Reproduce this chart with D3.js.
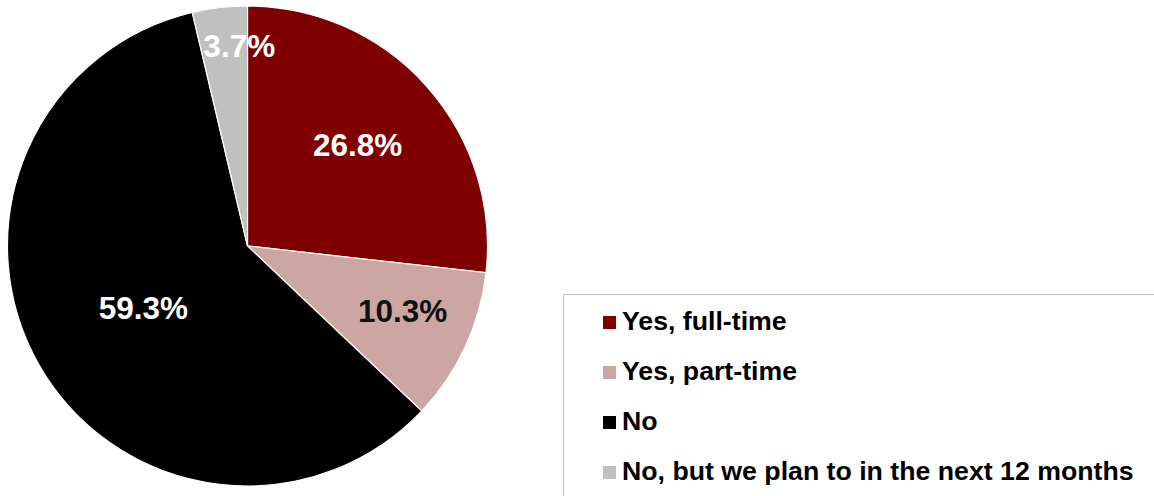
<!DOCTYPE html>
<html>
<head>
<meta charset="utf-8">
<script src="https://cdn.jsdelivr.net/npm/d3@7"></script>
<style>
  html, body { margin: 0; padding: 0; background: #fff; }
  svg { display: block; }
  text { font-family: "Liberation Sans", Arial, sans-serif; font-weight: bold; }
</style>
</head>
<body>
<svg id="chart" width="1154" height="496"></svg>
<script>
// Share of respondents by answer
const categories = ["Yes, full-time", "Yes, part-time", "No", "No, but we plan to in the next 12 months"];
const values = [26.8, 10.3, 59.3, 3.7];
const labels = ["26.8%", "10.3%", "59.3%", "3.7%"];
const colors = ["#800000", "#CCA6A3", "#000000", "#C0C0C0"];
const labelColors = ["#ffffff", "#111111", "#ffffff", "#ffffff"];

const svg = d3.select("#chart");
const cx = 247.5, cy = 246, R = 240;

// Label placement per slice: radius fraction and a small angular nudge (degrees)
const labelRadius = [0.624, 0.70, 0.504, 0.834];
const labelNudge = [-0.9, -2.3, -0.6, 4.3];

const pie = d3.pie().sort(null).value(d => d);
const arcs = pie(values);
const arc = d3.arc().innerRadius(0).outerRadius(R);

const g = svg.append("g").attr("transform", `translate(${cx},${cy})`);

g.selectAll("path")
  .data(arcs)
  .join("path")
  .attr("d", arc)
  .attr("fill", (d, i) => colors[i])
  .attr("stroke", "#ffffff")
  .attr("stroke-width", 1.2);

g.selectAll("text.val")
  .data(arcs)
  .join("text")
  .attr("class", "val")
  .attr("transform", (d, i) => {
    const a = (d.startAngle + d.endAngle) / 2 + labelNudge[i] * Math.PI / 180;
    const r = R * labelRadius[i];
    return `translate(${r * Math.sin(a)},${-r * Math.cos(a)})`;
  })
  .attr("text-anchor", "middle")
  .attr("dy", "0.36em")
  .attr("font-size", 31.5)
  .attr("fill", (d, i) => labelColors[i])
  .text((d, i) => labels[i]);

// Legend
const lg = svg.append("g");
lg.append("rect")
  .attr("x", 563.5).attr("y", 294.5)
  .attr("width", 620).attr("height", 240)
  .attr("fill", "#ffffff")
  .attr("stroke", "#bfbfbf")
  .attr("stroke-width", 1);

const rows = lg.selectAll("g.row")
  .data(categories)
  .join("g")
  .attr("class", "row")
  .attr("transform", (d, i) => `translate(603,${330 + i * 50})`);

rows.append("rect")
  .attr("x", 0).attr("y", -14)
  .attr("width", 13).attr("height", 13)
  .attr("fill", (d, i) => colors[i]);

rows.append("text")
  .attr("x", 19)
  .attr("font-size", 26.7)
  .attr("fill", "#000")
  .text(d => d);
</script>
</body>
</html>
